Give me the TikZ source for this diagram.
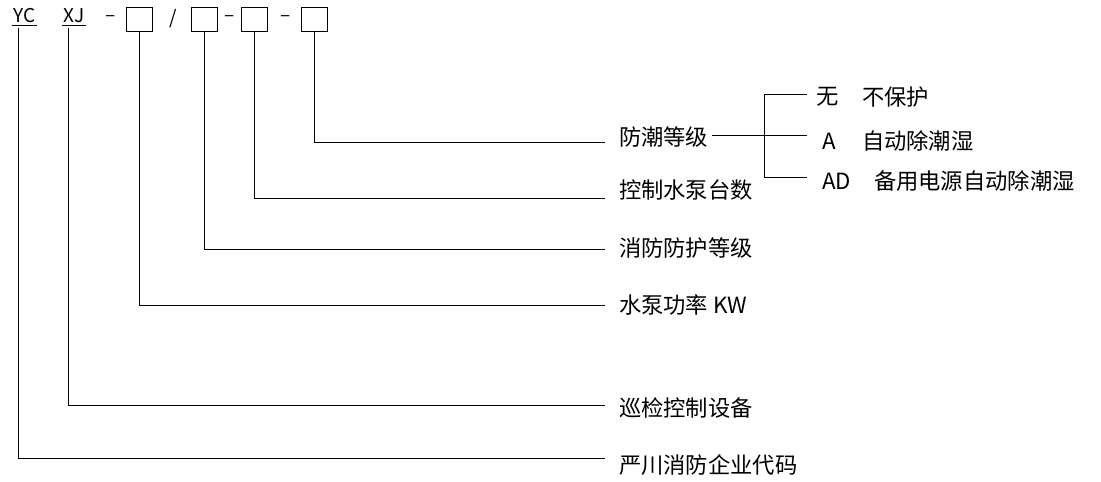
\documentclass[tikz,border=0pt]{standalone}
\usepackage{fontspec}
\setmainfont{Noto Sans CJK SC}
\begin{document}
\begin{tikzpicture}[x=1pt,y=-1pt,
  every node/.style={inner sep=0pt, outer sep=0pt},
  lbl/.style={anchor=west, font=\fontsize{22.3}{24}\selectfont},
  code/.style={font=\fontsize{19}{21}\selectfont},
  box/.style={draw, line width=0.8pt, minimum width=26pt, minimum height=24pt},
  ln/.style={line width=0.8pt}]
\useasboundingbox (0,0) rectangle (1101,482);
% code letters
\node[code] (yc) at (24.5,16) {YC};
\node[code] (xj) at (74,16) {XJ};
\draw[ln] (12,25.5) -- (37,25.5);
\draw[ln] (62,25.5) -- (86,25.5);
\node[code] (d1) at (111,19) {–};
\node[box] (b1) at (139.5,19) {};
\node[code] (sl) at (173,19) {/};
\node[box] (b2) at (204,19) {};
\node[code] (d2) at (230,19) {–};
\node[box] (b3) at (254,19) {};
\node[code] (d3) at (286,19) {–};
\node[box] (b4) at (314,19) {};
% line stubs
\coordinate (tyc) at (18,28);
\coordinate (txj) at (68,28);
\coordinate (e4) at (605,142);
\coordinate (e3) at (605,198);
\coordinate (e2) at (605,249);
\coordinate (e1) at (605,305);
\coordinate (exj) at (605,405);
\coordinate (eyc) at (605,458);
% labels
\node[lbl] (l4) at (619,137) {防潮等级};
\node[lbl] (l3) at (619,190) {控制水泵台数};
\node[lbl] (l2) at (619,248) {消防防护等级};
\node[lbl] (l1) at (619,305) {水泵功率 KW};
\node[lbl] (lxj) at (619,408) {巡检控制设备};
\node[lbl] (lyc) at (619,465) {严川消防企业代码};
% connectors
\draw[ln] (b4.south) |- (e4);
\draw[ln] (b3.south) |- (e3);
\draw[ln] (b2.south) |- (e2);
\draw[ln] (b1.south) |- (e1);
\draw[ln] (txj) |- (exj);
\draw[ln] (tyc) |- (eyc);
% branch
\coordinate (s4) at (712,135);
\coordinate (bt) at (764,94);
\coordinate (bb) at (764,177);
\coordinate (ot) at (807,94);
\coordinate (om) at (807,135);
\coordinate (ob) at (807,177);
\draw[ln] (s4) -- (om);
\draw[ln] (ot) -- (bt) -- (bb) -- (ob);
\node[lbl] (o1) at (816,97) {无};
\node[lbl] (o1t) at (862,97) {不保护};
\node[lbl] (o2) at (822,141) {A};
\node[lbl] (o2t) at (862,141) {自动除潮湿};
\node[lbl] (o3) at (822,181) {AD};
\node[lbl] (o3t) at (874,181) {备用电源自动除潮湿};
\end{tikzpicture}
\end{document}
